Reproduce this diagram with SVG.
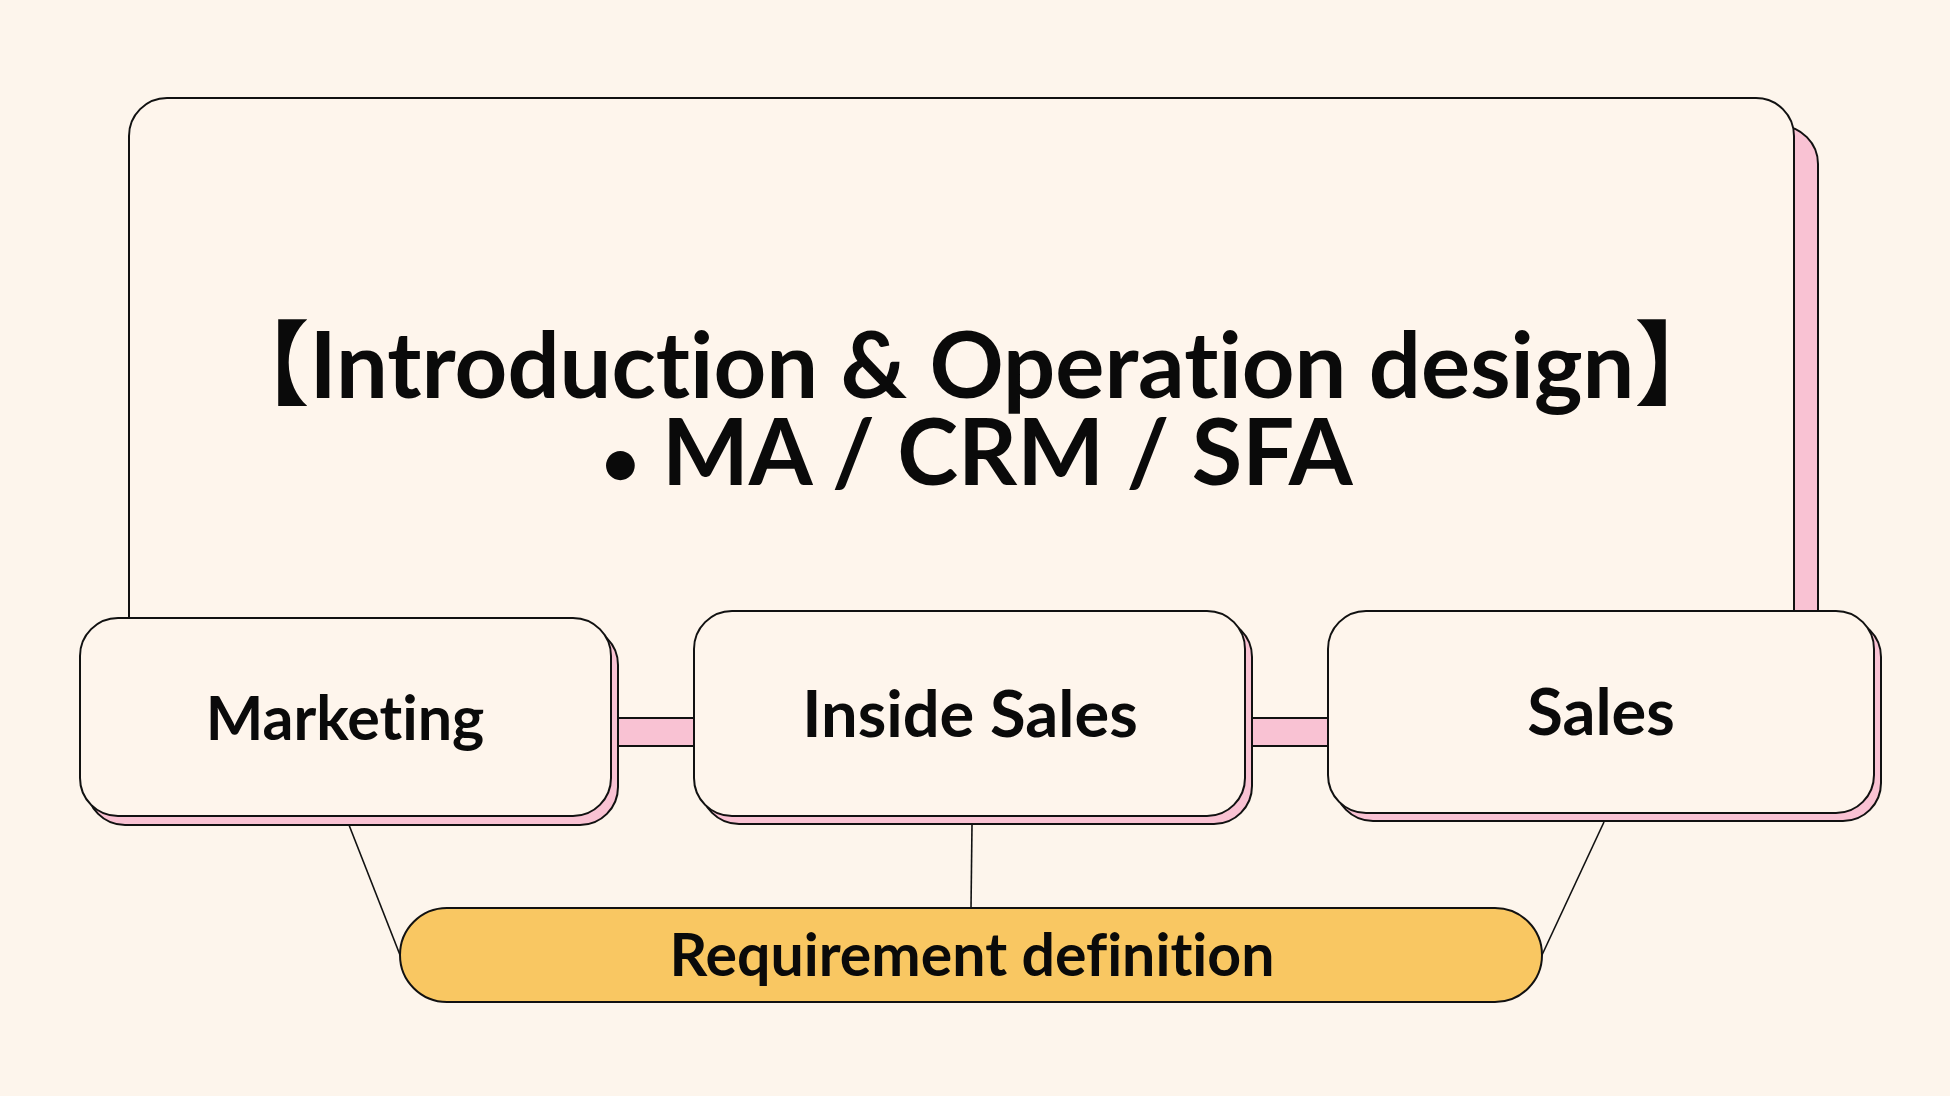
<svg xmlns="http://www.w3.org/2000/svg" width="1950" height="1096" viewBox="0 0 1950 1096">
<style>
.bg{fill:#FDF5EC}
.box{fill:#FEF5EC;stroke:#111;stroke-width:2}
.sh{fill:#F9C2D3;stroke:#111;stroke-width:2}
.pill{fill:#F9C762;stroke:#111;stroke-width:2}
.ln{stroke:#111;stroke-width:1.6;fill:none}
.t{font-family:Lato,"Noto Sans","Noto Sans CJK JP",sans-serif;font-weight:700;fill:#0a0a0a;text-anchor:middle;font-variant-ligatures:none}
.title{font-size:92px}
.lab{font-size:61px}
.lab2{font-size:65px}
</style>
<rect class="bg" x="0" y="0" width="1950" height="1096"/>
<g id="main">
<rect class="sh" x="153" y="126" width="1665" height="604" rx="38"/>
<rect class="box" x="129" y="98" width="1665" height="632" rx="38"/>
<text class="t title" x="972" y="398">【Introduction &amp; Operation design】</text>
<text class="t title" x="977" y="485"><tspan font-size="66">•</tspan> MA / CRM / SFA</text>
</g>
<g id="connectors">
<rect class="sh" x="600" y="718" width="100" height="28"/>
<rect class="sh" x="1235" y="718" width="100" height="28"/>
<line class="ln" x1="349" y1="825" x2="400" y2="955"/>
<line class="ln" x1="972" y1="825" x2="971" y2="908"/>
<line class="ln" x1="1604" y1="822" x2="1542" y2="955"/>
</g>
<g id="marketing">
<rect class="sh" x="87" y="627" width="531" height="198" rx="38"/>
<rect class="box" x="80" y="618" width="531" height="198" rx="38"/>
<text class="t lab" x="345" y="740">Marketing</text>
</g>
<g id="inside-sales">
<rect class="sh" x="701" y="619" width="551" height="205" rx="38"/>
<rect class="box" x="694" y="611" width="551" height="205" rx="38"/>
<text class="t lab2" x="970" y="737">Inside Sales</text>
</g>
<g id="sales">
<rect class="sh" x="1335" y="619" width="546" height="202" rx="38"/>
<rect class="box" x="1328" y="611" width="546" height="202" rx="38"/>
<text class="t lab2" x="1601" y="735">Sales</text>
</g>
<g id="requirement">
<rect class="pill" x="400" y="908" width="1142" height="94" rx="47"/>
<text class="t" font-size="59" x="972" y="976">Requirement definition</text>
</g>
</svg>
